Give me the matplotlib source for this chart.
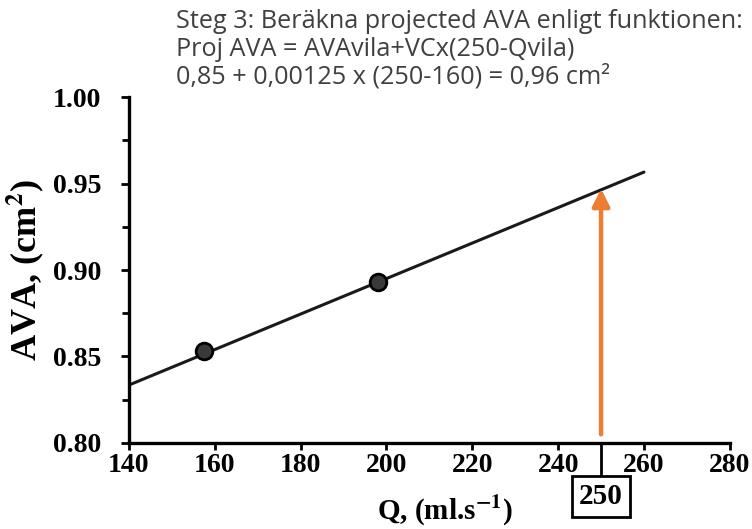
import matplotlib
matplotlib.use("Agg")
import matplotlib.pyplot as plt
from matplotlib.ticker import MultipleLocator, FormatStrFormatter

# data
q_points = [157.5, 198.0]
ava_points = [0.853, 0.893]
line_q = [140, 260]
line_ava = [0.8335, 0.9566]
q_target = 250
arrow_from = 0.805
arrow_to = 0.947

note_lines = [
    "Steg 3: Beräkna projected AVA enligt funktionen:",
    "Proj AVA = AVAvila+VCx(250-Qvila)",
    "0,85 + 0,00125 x (250-160) = 0,96 cm²",
]

serif = ["Liberation Serif", "DejaVu Serif"]
plt.rcParams["mathtext.fontset"] = "stix"

fig = plt.figure(figsize=(7.52, 5.29), dpi=100)
ax = fig.add_axes([0.1715, 0.1626, 0.799, 0.654])

ax.plot(line_q, line_ava, color="#1a1a1a", lw=2.2, solid_capstyle="round")
ax.plot(q_points, ava_points, "o", color="#1a1a1a", markersize=12,
        markeredgecolor="#000000", markeredgewidth=2, markerfacecolor="#3a3a3a")

ax.annotate("", xy=(q_target, arrow_to), xytext=(q_target, arrow_from),
            arrowprops=dict(arrowstyle="-|>", color="#ED7D31", lw=3.2,
                            mutation_scale=26, shrinkA=0, shrinkB=0))

ax.set_xlim(140, 280)
ax.set_ylim(0.80, 1.00)
ax.xaxis.set_major_locator(MultipleLocator(20))
ax.yaxis.set_major_locator(MultipleLocator(0.05))
ax.yaxis.set_minor_locator(MultipleLocator(0.025))
ax.yaxis.set_major_formatter(FormatStrFormatter("%.2f"))

for s in ["top", "right"]:
    ax.spines[s].set_visible(False)
for s in ["left", "bottom"]:
    ax.spines[s].set_linewidth(2.4)

ax.tick_params(axis="y", which="major", direction="out", length=6, width=2, pad=14)
ax.tick_params(axis="y", which="minor", direction="out", length=5, width=2)
ax.tick_params(axis="x", which="major", direction="out", length=5, width=2, pad=2)
for lab in ax.get_xticklabels() + ax.get_yticklabels():
    lab.set_family(serif)
    lab.set_fontweight("bold")
    lab.set_fontsize(20)

# marker line + boxed 250 under the axis
ax.plot([q_target, q_target], [0.80, 0.779], color="black", lw=2, clip_on=False)
ax.text(q_target, 0.769, "250", ha="center", va="center", family=serif,
        fontweight="bold", fontsize=21, clip_on=False,
        bbox=dict(boxstyle="square,pad=0.25", fc="white", ec="black", lw=2))

ax.set_xlabel("Q, (ml.s$^{\\mathbf{-1}}$)", family=serif, fontweight="bold", fontsize=21)
ax.xaxis.set_label_coords(0.526, -0.148)
ax.set_ylabel("AVA, (cm$^{\\mathbf{2}}$)", family=serif, fontweight="bold", fontsize=26)
ax.yaxis.set_label_coords(-0.138, 0.5)

for i, line in enumerate(note_lines):
    fig.text(0.234, 1 - (21 + 28 * i) / 529, line, ha="left", va="center",
             family=["Open Sans", "DejaVu Sans"], fontsize=18.2, color="#404040")

fig.savefig("out.png", dpi=100)
